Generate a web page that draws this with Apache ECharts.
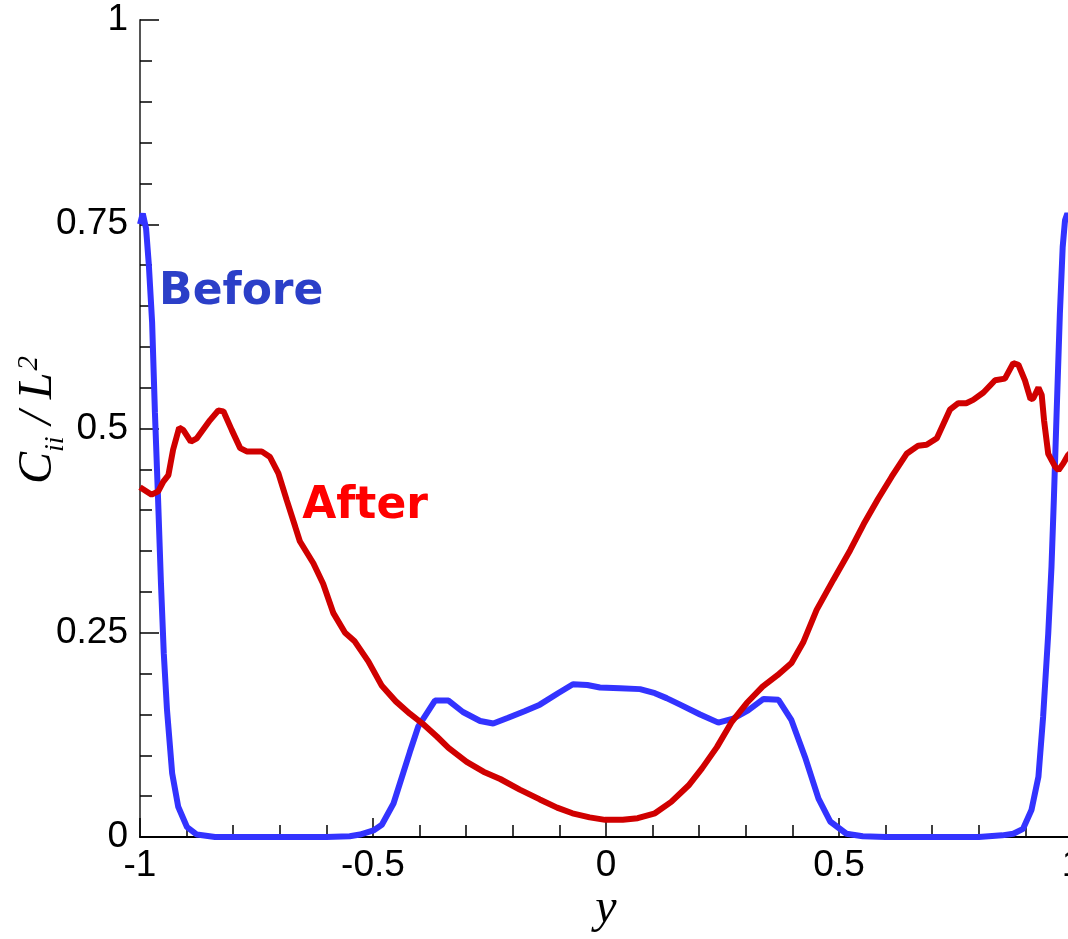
<!DOCTYPE html>
<html>
<head>
<meta charset="utf-8">
<script src="https://cdn.jsdelivr.net/npm/echarts@6/dist/echarts.min.js"></script>
<style>
  html, body { margin: 0; padding: 0; background: #ffffff; }
  #chart { width: 1068px; height: 939px; }
</style>
</head>
<body>
<div id="chart"></div>
<script>
// Profile of C_ii / L^2 across the channel, y in [-1, 1]

// "Before" curve
const beforeX = [
  -1.000, -0.994, -0.987, -0.981, -0.974, -0.968, -0.961, -0.955, -0.949, -0.942,
  -0.931, -0.918, -0.899, -0.878, -0.839, -0.800, -0.700, -0.600, -0.550, -0.528,
  -0.499, -0.481, -0.456, -0.421, -0.403, -0.367, -0.338, -0.307, -0.270, -0.242,
  -0.210, -0.175, -0.142, -0.103, -0.071, -0.040, -0.013, 0.030, 0.073, 0.105,
  0.130, 0.159, 0.202, 0.241, 0.273, 0.305, 0.338, 0.370, 0.398, 0.427,
  0.456, 0.481, 0.516, 0.551, 0.600, 0.700, 0.800, 0.850, 0.874, 0.895,
  0.913, 0.928, 0.938, 0.949, 0.956, 0.961, 0.967, 0.974, 0.980, 0.985,
  0.990, 1.000
];
const beforeY = [
  0.750, 0.763, 0.745, 0.700, 0.630, 0.520, 0.410, 0.310, 0.225, 0.155,
  0.078, 0.037, 0.012, 0.003, 0.000, 0.000, 0.000, 0.000, 0.001, 0.003,
  0.008, 0.015, 0.041, 0.104, 0.135, 0.167, 0.167, 0.153, 0.142, 0.139,
  0.146, 0.154, 0.162, 0.176, 0.187, 0.186, 0.183, 0.182, 0.181, 0.176,
  0.170, 0.162, 0.150, 0.140, 0.145, 0.155, 0.169, 0.168, 0.143, 0.098,
  0.047, 0.019, 0.004, 0.001, 0.000, 0.000, 0.000, 0.002, 0.004, 0.010,
  0.033, 0.074, 0.147, 0.249, 0.331, 0.412, 0.519, 0.641, 0.722, 0.755,
  0.763, 0.750
];

// "After" curve
const afterX = [
  -1.000, -0.996, -0.975, -0.961, -0.950, -0.939, -0.929, -0.916, -0.907, -0.891,
  -0.878, -0.850, -0.832, -0.821, -0.803, -0.785, -0.771, -0.739, -0.721, -0.703,
  -0.685, -0.667, -0.657, -0.628, -0.607, -0.585, -0.560, -0.540, -0.510, -0.481,
  -0.451, -0.421, -0.392, -0.363, -0.338, -0.299, -0.263, -0.227, -0.185, -0.142,
  -0.105, -0.072, -0.035, -0.002, 0.036, 0.068, 0.105, 0.140, 0.177, 0.206,
  0.238, 0.270, 0.302, 0.336, 0.368, 0.398, 0.423, 0.452, 0.488, 0.524,
  0.553, 0.584, 0.613, 0.645, 0.670, 0.688, 0.710, 0.738, 0.756, 0.773,
  0.788, 0.810, 0.835, 0.856, 0.874, 0.885, 0.899, 0.911, 0.917, 0.928,
  0.935, 0.940, 0.949, 0.964, 0.971, 0.981, 0.991, 1.000
];
const afterY = [
  0.428, 0.427, 0.419, 0.423, 0.435, 0.443, 0.474, 0.501, 0.498, 0.484,
  0.488, 0.510, 0.522, 0.521, 0.498, 0.476, 0.472, 0.472, 0.465, 0.445,
  0.412, 0.380, 0.362, 0.335, 0.310, 0.274, 0.250, 0.240, 0.215, 0.185,
  0.166, 0.151, 0.138, 0.123, 0.109, 0.092, 0.080, 0.071, 0.058, 0.046,
  0.036, 0.029, 0.024, 0.021, 0.021, 0.023, 0.029, 0.043, 0.063, 0.084,
  0.110, 0.141, 0.164, 0.184, 0.198, 0.213, 0.238, 0.278, 0.315, 0.351,
  0.383, 0.414, 0.441, 0.469, 0.479, 0.480, 0.488, 0.523, 0.531, 0.531,
  0.535, 0.544, 0.559, 0.561, 0.580, 0.578, 0.559, 0.536, 0.537, 0.550,
  0.541, 0.510, 0.469, 0.453, 0.449, 0.457, 0.467, 0.472
];

// Axis ranges and tick steps
const xRange = [-1, 1];
const yRange = [0, 1];
const xStep = 0.5;
const yStep = 0.25;

// Curve annotations: text and anchor in data space (left edge, middle)
const curveNames = ['Before', 'After'];
const curveNameAnchors = [[-0.959, 0.666], [-0.652, 0.404]];

const zip = (xs, ys) => xs.map((x, i) => [x, ys[i]]);

const chart = echarts.init(document.getElementById('chart'), null, { renderer: 'canvas' });

const tickFont = { fontFamily: 'Liberation Sans', fontSize: 37, color: '#000' };
const serifItalic = { fontFamily: 'Liberation Serif', fontStyle: 'italic', color: '#000' };

chart.setOption({
  animation: false,
  backgroundColor: '#ffffff',
  grid: { left: 140, right: -4, top: 20, bottom: 102, containLabel: false, outerBoundsMode: 'none' },
  xAxis: {
    type: 'value',
    min: xRange[0], max: xRange[1], interval: xStep,
    name: 'y',
    nameLocation: 'middle',
    nameGap: 48,
    nameMoveOverlap: false,
    nameTextStyle: Object.assign({ fontSize: 48 }, serifItalic),
    axisLine: { show: true, onZero: false, lineStyle: { color: '#000', width: 2 } },
    axisTick: { show: true, inside: true, length: 19, lineStyle: { color: '#000', width: 1.5 } },
    minorTick: { show: true, splitNumber: 5, length: 12, lineStyle: { color: '#000', width: 1.5 } },
    axisLabel: Object.assign({ margin: 10, hideOverlap: false }, tickFont),
    splitLine: { show: false },
    minorSplitLine: { show: false }
  },
  yAxis: {
    type: 'value',
    min: yRange[0], max: yRange[1], interval: yStep,
    name: '{c|C}{sub|ii}{c| / L}{sup|2}',
    nameLocation: 'middle',
    nameGap: 70,
    nameRotate: 90,
    nameMoveOverlap: false,
    nameTextStyle: {
      fontFamily: 'Liberation Serif', fontStyle: 'italic', fontSize: 48, color: '#000',
      padding: [0, 0, 0, 17],
      rich: {
        c: { fontFamily: 'Liberation Serif', fontStyle: 'italic', fontSize: 48, lineHeight: 64, color: '#000' },
        sub: { fontFamily: 'Liberation Serif', fontStyle: 'italic', fontSize: 28, lineHeight: 36, verticalAlign: 'bottom', color: '#000' },
        sup: { fontFamily: 'Liberation Serif', fontStyle: 'italic', fontSize: 29, verticalAlign: 'top', padding: [9, 0, 0, 2], color: '#000' }
      }
    },
    axisLine: { show: true, onZero: false, lineStyle: { color: '#555', width: 2 } },
    axisTick: { show: true, inside: true, length: 19, lineStyle: { color: '#000', width: 1.5 } },
    minorTick: { show: true, splitNumber: 5, length: 12, lineStyle: { color: '#000', width: 1.5 } },
    axisLabel: Object.assign({ margin: 12 }, tickFont),
    splitLine: { show: false },
    minorSplitLine: { show: false }
  },
  series: [
    {
      name: 'Before',
      type: 'line',
      data: zip(beforeX, beforeY),
      showSymbol: false,
      symbol: 'none',
      smooth: false,
      clip: false,
      lineStyle: { color: '#3333ff', width: 6 },
      z: 2
    },
    {
      name: 'After',
      type: 'line',
      data: zip(afterX, afterY),
      showSymbol: false,
      symbol: 'none',
      smooth: false,
      clip: false,
      lineStyle: { color: '#d00000', width: 6 },
      z: 3
    }
  ]
});

// Curve names, placed through the grid's data-to-pixel conversion
const nameColors = ['#2b3fc8', '#ff0000'];
const graphics = curveNames.map((text, i) => {
  const p = chart.convertToPixel({ gridIndex: 0 }, curveNameAnchors[i]);
  return {
    type: 'text',
    x: p[0],
    y: p[1],
    z: 10,
    style: {
      text: text,
      fill: nameColors[i],
      font: 'bold 44px "DejaVu Sans"',
      align: 'left',
      verticalAlign: 'middle'
    }
  };
});
chart.setOption({ graphic: graphics });
</script>
</body>
</html>
